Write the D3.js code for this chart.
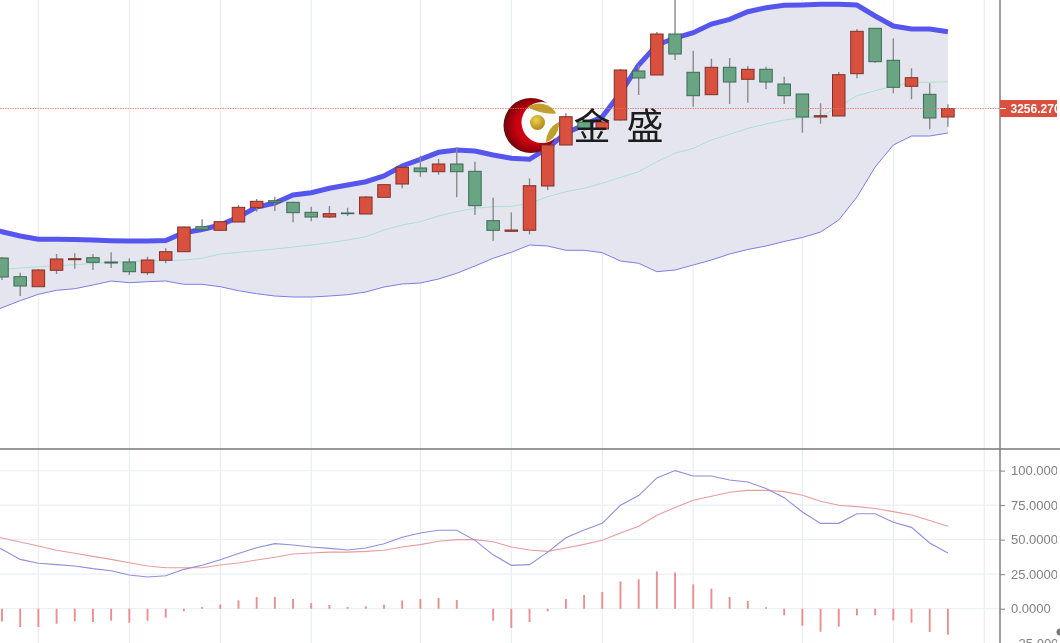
<!DOCTYPE html>
<html><head><meta charset="utf-8">
<script src="https://cdn.jsdelivr.net/npm/d3@7"></script>
<style>html,body{margin:0;padding:0;background:#fff;overflow:hidden}svg{display:block;filter:blur(0.55px)}</style>
</head><body><svg id="c" width="1060" height="643"></svg>
<script>
const opens=[3090,3106.8,3088.1,3078.1,3094.5,3105.1,3107.1,3102.8,3102.8,3092.1,3104.5,3113.1,3138.1,3134.5,3142.8,3157.1,3164.1,3162.5,3152.5,3147.8,3151.8,3150.8,3167.5,3180.8,3196.8,3193.1,3200.8,3193.5,3144.1,3133.5,3134.5,3178.8,3219.8,3242.8,3235.8,3244.8,3293.8,3289.8,3330.8,3292.5,3270.1,3297.5,3285.5,3295.5,3280.8,3270.8,3247.8,3248.8,3291.1,3336.5,3304.5,3278.5,3270.5,3247.8];
const closes=[3107,3087.8,3078.8,3094.8,3105.8,3106.1,3102.5,3101.8,3093.1,3104.8,3113.1,3137.8,3135.5,3143.1,3157.5,3163.5,3162.5,3152.1,3147.8,3151.1,3151.1,3167.8,3180.1,3197.5,3193.1,3200.8,3193.1,3159.1,3134.5,3134.8,3179.1,3219.8,3248.1,3235.8,3242.8,3294.8,3286.8,3330.8,3310.8,3269.1,3297.5,3282.8,3295.5,3282.8,3269.1,3247.8,3249.1,3290.1,3333.5,3303.1,3277.5,3287.1,3246.8,3256.27];
const highs=[3109,3107.8,3092.1,3095.8,3110.8,3111.5,3110.8,3112.5,3106.5,3108.1,3116.5,3138.3,3145.5,3143.8,3159.8,3165.8,3168.1,3163.1,3158.1,3158.8,3157.1,3168.8,3180.5,3198.1,3209.1,3205.8,3217.5,3203.1,3167.1,3152.5,3186.5,3219.8,3251.5,3244,3244,3295.8,3299.8,3332.8,3364.8,3314.1,3306.1,3306.8,3298.8,3298.1,3288.1,3270.8,3261.5,3292.8,3335.8,3336.5,3326.5,3296.5,3281.5,3260.5];
const lows=[3085,3084.8,3068.8,3078.1,3090.8,3096.1,3094.8,3096.8,3089.8,3089.8,3101.5,3112.8,3134.8,3134.3,3142.8,3153.1,3153.8,3142.5,3143.5,3146.8,3148.8,3150.8,3167.5,3176.5,3188.1,3190.1,3167.5,3149.8,3124.1,3133.5,3130.5,3174.8,3219.8,3234,3234,3244.3,3269.8,3289.8,3304.8,3258.1,3270.1,3260.8,3262.1,3275.5,3260.8,3232.1,3241.1,3248.8,3286.5,3302.1,3271.5,3265.5,3235.5,3238.1];
const upper=[3136.8,3133.1,3128.8,3125.5,3125.5,3125.3,3124.8,3124.1,3123.8,3123.8,3124.3,3132.1,3135.3,3139.8,3147.8,3157.8,3161.8,3169.8,3172.1,3176.5,3179.8,3183.1,3188.8,3198.8,3205.5,3212.5,3214.8,3213.8,3209.8,3206.5,3205.5,3216.8,3231.8,3239.8,3248.1,3271.8,3299.8,3319.8,3326.8,3332.1,3340.8,3345.5,3353.1,3357.1,3359.5,3359.8,3360.5,3360.5,3359.8,3348.8,3338.8,3335.8,3335.8,3333.1];
const middle=[3093.8,3095.3,3096.8,3098.1,3099.1,3100.1,3101.5,3102.5,3103.1,3103.8,3104.1,3104.8,3106.5,3110.8,3112.5,3114.1,3115.8,3117.8,3119.8,3122.1,3124.8,3128.1,3134.8,3139.8,3143.1,3148.8,3153.1,3156.5,3158.1,3158.5,3161.5,3168.1,3173.1,3176.5,3181.5,3187.5,3193.1,3203.1,3211.5,3216.5,3224.8,3230.5,3236.5,3240.8,3244.8,3247.1,3248.1,3258.1,3269.1,3274.1,3278.8,3282.5,3282.5,3283.1];
const lower=[3049.8,3057.1,3064.1,3070.5,3074.5,3076.1,3079.8,3083.8,3082.1,3083.1,3083.8,3080.5,3080.5,3078.1,3074.1,3071.1,3068.8,3067.8,3067.8,3068.8,3070.1,3072.8,3077.8,3080.8,3081.8,3085.8,3091.5,3098.8,3106.5,3112.5,3119.8,3118.8,3114.5,3114.5,3112.1,3103.8,3101.5,3093.1,3094.8,3099.8,3104.8,3110.8,3115.3,3118.8,3123.3,3127.3,3132.8,3144.8,3167.8,3197.8,3219.8,3228.8,3228.8,3231.8];
const kLine=[49,43,35.7,32.9,31.9,30.9,29,27.5,24.4,23,23.9,28.5,31.4,35.5,39.9,44.2,47.1,46.1,44.7,43.7,42.5,44,47,51.7,54.8,56.8,56.8,49.5,39,31.4,31.9,41,51.4,57,61.8,74.9,81.9,94.7,100,96.1,96.1,93.2,91.8,87,80.4,70,61.8,61.8,68.8,68.8,62.6,58.9,47.6,40.3];
const dLine=[54,51.2,48.3,45.4,42.3,40.1,37.9,35.7,33.3,30.9,29.7,29.7,29.7,31.6,33.1,35.3,37.2,39.6,40.3,41,41,41.5,42.3,44.7,46.4,48.8,50,50,48.5,44.7,42.5,41.5,44,46.6,49.5,54.8,59.7,67.6,73.2,78.5,81.4,84.3,85.7,85.7,84.8,82.1,77.8,74.9,73.9,72.5,70.3,67.9,63.8,59.7];
const hist=[-9,-9.2,-13.3,-13.3,-10.9,-9.2,-9.7,-8.7,-10.1,-8.7,-6.5,-1.9,1.2,3.1,6,8.5,8.5,7,4.1,2.7,1.2,1.7,3.1,6,7,7.7,6.3,0,-8.7,-14,-9.7,-1.9,7,9.9,12,19.8,21.3,27,26.3,17.6,14.5,8.5,5.6,1,-4.8,-12.3,-16.7,-13,-4.8,-4.8,-8.5,-10.1,-16.9,-18.8];
const gridSlots=[3,8,13,18,24,29,34,39,45,50,55];
const indicatorTicks=[100,75,50,25,0,-25];
const lastPrice=3256.27;
const logoText=["金","盛"];

const svg=d3.select("#c");
const idx=d3.range(opens.length);
const x=d3.scaleLinear().domain([0,53]).range([-16.19,947.9]);
const y=d3.scaleLinear().domain([3364.8,2915.8]).range([0,449]);
const yi=d3.scaleLinear().domain([100,0]).range([470.6,608.7]);
const RED="#d9503f",GREEN="#69a583";
const defs=svg.append("defs");
defs.append("clipPath").attr("id","plot").append("rect").attr("width",1000).attr("height",449);
defs.append("clipPath").attr("id","sub").append("rect").attr("y",449).attr("width",1000).attr("height",194);
defs.append("clipPath").attr("id","right").append("rect").attr("x",1000).attr("width",57).attr("height",643);
const rg=defs.append("radialGradient").attr("id","ball").attr("cx","0.55").attr("cy","0.5").attr("r","0.55");
rg.append("stop").attr("offset","0").attr("stop-color","#e8000f");
rg.append("stop").attr("offset","0.6").attr("stop-color","#c80010");
rg.append("stop").attr("offset","1").attr("stop-color","#6c0508");
const gg=defs.append("radialGradient").attr("id","gold").attr("cx","0.4").attr("cy","0.35").attr("r","0.7");
gg.append("stop").attr("offset","0").attr("stop-color","#f0d050");
gg.append("stop").attr("offset","1").attr("stop-color","#a88414");

// grid
const gridG=svg.append("g");
gridG.selectAll("line.v").data(gridSlots).join("line").attr("x1",d=>x(d)).attr("x2",d=>x(d)).attr("y1",0).attr("y2",643).attr("stroke","#e9f0f4").attr("stroke-width",1.3);
gridG.selectAll("line.h").data(indicatorTicks.filter(d=>d>=0)).join("line").attr("x1",0).attr("x2",1000).attr("y1",d=>yi(d)).attr("y2",d=>yi(d)).attr("stroke","#ebf1f6").attr("stroke-width",1.2);

// band
const main=svg.append("g").attr("clip-path","url(#plot)");
main.append("path").attr("fill","#e4e4f0").attr("fill-opacity",0.98)
 .attr("d",d3.area().x(i=>x(i)).y0(i=>y(lower[i])).y1(i=>y(upper[i]))(idx));
main.append("path").attr("fill","none").attr("stroke","#a9e2cf").attr("stroke-width",1)
 .attr("d",d3.line().x(i=>x(i)).y(i=>y(middle[i]))(idx));
main.append("path").attr("fill","none").attr("stroke","#7c7ce4").attr("stroke-width",1)
 .attr("d",d3.line().x(i=>x(i)).y(i=>y(lower[i]))(idx));
main.append("path").attr("fill","none").attr("stroke","#5656ee").attr("stroke-width",5)
 .attr("d",d3.line().x(i=>x(i)).y(i=>y(upper[i]))(idx));

// logo
const logo=main.append("g").attr("transform","translate(531,125.5)");
logo.append("circle").attr("r",27.5).attr("fill","url(#ball)");
logo.append("circle").attr("cx",11).attr("cy",-3).attr("r",20.5).attr("fill","#fff");
logo.append("circle").attr("cx",6.5).attr("cy",-3).attr("r",7.5).attr("fill","url(#gold)");
const leaf=(a0,a1,r0,r1)=>{const p=d3.path(),c=Math.PI/180;
 const pt=(a,r)=>[r*Math.cos(a*c),r*Math.sin(a*c)];
 const s=pt(a0,r1),e=pt(a1,r1),m=pt((a0+a1)/2,r0);
 p.moveTo(s[0],s[1]);p.arc(0,0,r1,a0*c,a1*c);p.quadraticCurveTo(m[0],m[1],s[0],s[1]);return p.toString();};
logo.append("path").attr("fill","#bda12c").attr("transform","translate(8,-2)").attr("d",leaf(-125,-30,9,20));
logo.append("path").attr("fill","#bda12c").attr("transform","translate(8,-2)").attr("d",leaf(-5,70,9,20));

// candles
const cw=12.5;
const cg=main.append("g");
cg.selectAll("line").data(idx).join("line").attr("x1",i=>x(i)).attr("x2",i=>x(i)).attr("y1",i=>y(highs[i])).attr("y2",i=>y(lows[i])).attr("stroke","#8a8a8a").attr("stroke-width",1.4);
cg.selectAll("rect").data(idx).join("rect").attr("x",i=>x(i)-cw/2).attr("width",cw)
 .attr("y",i=>y(Math.max(opens[i],closes[i])))
 .attr("height",i=>Math.max(0.6,Math.abs(y(opens[i])-y(closes[i]))))
 .attr("fill",i=>closes[i]>=opens[i]?RED:GREEN)
 .attr("stroke",i=>closes[i]>=opens[i]?"#7e3228":"#3d6a54").attr("stroke-width",1);

main.selectAll("text.lg").data(logoText).join("text").attr("class","lg")
 .attr("x",(d,k)=>592+k*53).attr("y",140).attr("text-anchor","middle")
 .attr("font-family","'Noto Sans CJK SC'").attr("font-size",37).attr("fill","#1c1c1c").text(d=>d);

// price line
svg.append("line").attr("x1",0).attr("x2",1000).attr("y1",y(lastPrice)).attr("y2",y(lastPrice)).attr("stroke","#e0705f").attr("stroke-width",0.8).attr("stroke-dasharray","1.5,1");

// indicator
const sub=svg.append("g").attr("clip-path","url(#sub)");
sub.selectAll("line").data(idx).join("line").attr("x1",i=>x(i)).attr("x2",i=>x(i)).attr("y1",yi(0)).attr("y2",i=>yi(hist[i])).attr("stroke","#e98f8f").attr("stroke-width",1.9);
sub.append("path").attr("fill","none").attr("stroke","#e89c9c").attr("stroke-width",1.1).attr("d",d3.line().x(i=>x(i)).y(i=>yi(dLine[i]))(idx));
sub.append("path").attr("fill","none").attr("stroke","#8f8fdc").attr("stroke-width",1.1).attr("d",d3.line().x(i=>x(i)).y(i=>yi(kLine[i]))(idx));

// frame
svg.append("line").attr("x1",0).attr("x2",1060).attr("y1",449).attr("y2",449).attr("stroke","#777").attr("stroke-width",1.4);
svg.append("line").attr("x1",1000).attr("x2",1000).attr("y1",0).attr("y2",643).attr("stroke","#808080").attr("stroke-width",1.5);

// right axis
const axWrap=svg.append("g").attr("clip-path","url(#right)");
const ax=axWrap.append("g").attr("transform","translate(1000,0)")
 .call(d3.axisRight(yi).tickValues(indicatorTicks).tickFormat(d3.format(".4f")).tickSize(5).tickPadding(6));
ax.select(".domain").remove();
ax.selectAll("line").attr("stroke","#808080");
ax.selectAll("text").attr("fill","#808080").attr("font-family","'Liberation Sans'").attr("font-size",13);
svg.append("circle").attr("cx",1060).attr("cy",632).attr("r",3.5).attr("fill","#777");

// price tag
const tag=svg.append("g").attr("clip-path","url(#right)");
tag.append("rect").attr("x",1000).attr("y",y(lastPrice)-8.5).attr("width",57).attr("height",17).attr("fill",RED);
tag.append("line").attr("x1",1000).attr("x2",1006).attr("y1",y(lastPrice)).attr("y2",y(lastPrice)).attr("stroke","#fff");
tag.append("text").attr("x",1010.5).attr("y",y(lastPrice)+4.3).attr("fill","#fff").attr("font-family","'Liberation Sans'").attr("font-weight","bold").attr("font-size",12).text(lastPrice.toFixed(4));
</script></body></html>
